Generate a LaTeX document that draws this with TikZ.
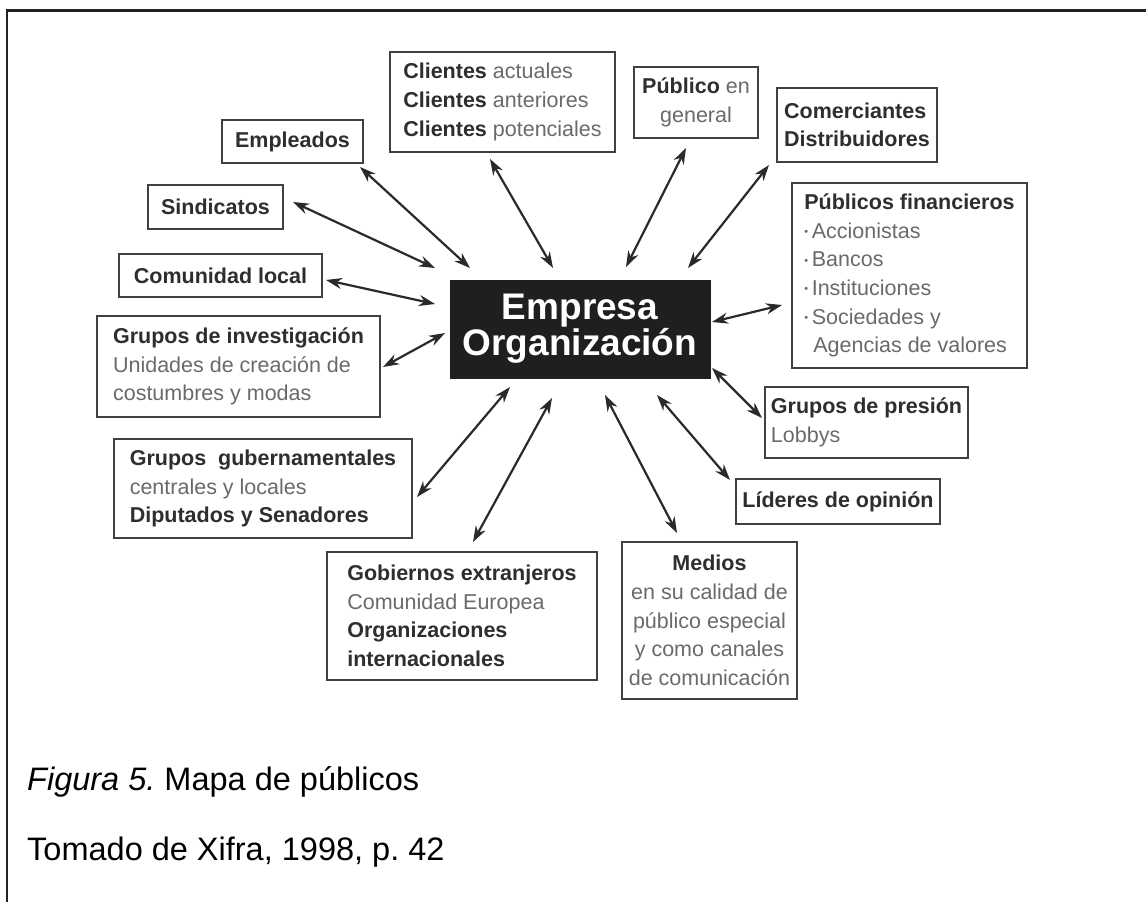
\documentclass[tikz,border=0pt]{standalone}
\usepackage{fontspec}
\setmainfont{Liberation Sans}
\usetikzlibrary{arrows.meta}
\frenchspacing

\definecolor{ink}{HTML}{2E2E2E}
\definecolor{soft}{HTML}{6A6A6A}
\definecolor{edge}{HTML}{404040}
\definecolor{arrowcol}{HTML}{2A2A2A}
\definecolor{corefill}{HTML}{1F1F1F}
\definecolor{frame}{HTML}{222222}

% bold lead words in each box
\newcommand\strongpart[1]{{\bfseries\color{ink}#1}}
% small bullet for list items
\newcommand\listdot{{\raisebox{0.25ex}{\fontsize{11}{11}\selectfont\textbullet}}\,}

\tikzset{
  pubbox/.style={draw=edge, line width=2.3pt, inner sep=0pt, align=left,
                 text=soft, font=\fontsize{21.5}{28.6}\selectfont},
  corebox/.style={fill=corefill, draw=corefill, inner sep=0pt, align=center,
                  text=white, font=\fontsize{37}{33}\selectfont\bfseries},
  biarrow/.style={draw=arrowcol, line width=2.2pt,
                  {Stealth[length=16pt,width=11pt]}-{Stealth[length=16pt,width=11pt]}},
  caption/.style={anchor=base west, inner sep=0pt, text=black,
                  font=\fontsize{32.5}{38}\selectfont}
}

\begin{document}
\begin{tikzpicture}[x=1pt, y=-1pt]
\useasboundingbox (0,0) rectangle (1146,902);
\fill[white] (0,0) rectangle (1146,902);

% page frame (top and left rule)
\draw[frame, line width=2.5pt] (7,902) -- (7,10.5) -- (1146,10.5);

% central node
\node[corebox, minimum width=260pt, minimum height=98pt] (core) at (580,329)
  {Empresa\\Organización};

% surrounding publics
\node[pubbox, minimum width=141pt, minimum height=43pt] (emp) at (292.5,141.5)
  {\strongpart{Empleados}};
\node[pubbox, minimum width=135pt, minimum height=44pt] (sin) at (215.5,207)
  {\strongpart{Sindicatos}};
\node[pubbox, minimum width=203pt, minimum height=43pt] (com) at (220.5,275.5)
  {\strongpart{Comunidad local}};
\node[pubbox, minimum width=283pt, minimum height=101pt] (inv) at (238.5,366.5)
  {\strongpart{Grupos de investigación}\\Unidades de creación de\\costumbres y modas};
\node[pubbox, minimum width=298pt, minimum height=99pt] (gub) at (263,488.5)
  {\strongpart{Grupos\ \ gubernamentales}\\centrales y locales\\\strongpart{Diputados y Senadores}};
\node[pubbox, minimum width=270pt, minimum height=128pt] (gob) at (462,616)
  {\strongpart{Gobiernos extranjeros}\\Comunidad Europea\\\strongpart{Organizaciones}\\\strongpart{internacionales}};
\node[pubbox, align=center, minimum width=175pt, minimum height=157pt] (med) at (709.5,620.5)
  {\strongpart{Medios}\\en su calidad de\\público especial\\y como canales\\de comunicación};
\node[pubbox, minimum width=204pt, minimum height=45pt] (lid) at (838,501.5)
  {\strongpart{Líderes de opinión}};
\node[pubbox, minimum width=203pt, minimum height=71pt] (pre) at (866.5,422.5)
  {\strongpart{Grupos de presión}\\Lobbys};
\node[pubbox, minimum width=235pt, minimum height=185pt] (fin) at (909.5,275.5)
  {\strongpart{Públicos financieros}\\\listdot Accionistas\\\listdot Bancos\\\listdot Instituciones\\\listdot Sociedades y\\\hspace{9pt}Agencias de valores};
\node[pubbox, minimum width=160pt, minimum height=74pt] (cmc) at (857,125)
  {\strongpart{Comerciantes}\\\strongpart{Distribuidores}};
\node[pubbox, align=center, minimum width=124pt, minimum height=71pt] (pub) at (696,102.5)
  {\strongpart{Público} en\\general};
\node[pubbox, minimum width=225pt, minimum height=100pt] (cli) at (502.5,102)
  {\strongpart{Clientes} actuales\\\strongpart{Clientes} anteriores\\\strongpart{Clientes} potenciales};

% arrow ends beside each box and beside the central node
\coordinate (emp-a) at (360,167);  \coordinate (core-emp) at (470,268);
\coordinate (sin-a) at (293,202);  \coordinate (core-sin) at (435,268);
\coordinate (cli-a) at (490,159);  \coordinate (core-cli) at (553,268);
\coordinate (com-a) at (326,280);  \coordinate (core-com) at (435,304);
\coordinate (pub-a) at (686,148);  \coordinate (core-pub) at (626,267);
\coordinate (cmc-a) at (769,165);  \coordinate (core-cmc) at (688,268);
\coordinate (fin-a) at (782,305);  \coordinate (core-fin) at (712,322);
\coordinate (pre-a) at (762,418);  \coordinate (core-pre) at (712,368);
\coordinate (lid-a) at (730,480);  \coordinate (core-lid) at (657,395);
\coordinate (med-a) at (677,533);  \coordinate (core-med) at (605,395);
\coordinate (inv-a) at (383,367);  \coordinate (core-inv) at (445,333);
\coordinate (gub-a) at (417,497);  \coordinate (core-gub) at (510,387);
\coordinate (gob-a) at (473,542);  \coordinate (core-gob) at (552,398);

\foreach \p in {emp,sin,cli,com,pub,cmc,fin,pre,lid,med,inv,gub,gob}
  \draw[biarrow] (\p-a) -- (core-\p);

% caption
\node[caption] (figcap) at (27,790) {\textit{Figura 5.} Mapa de públicos};
\node[caption] (source) at (27,860) {Tomado de Xifra, 1998, p. 42};
\end{tikzpicture}
\end{document}
